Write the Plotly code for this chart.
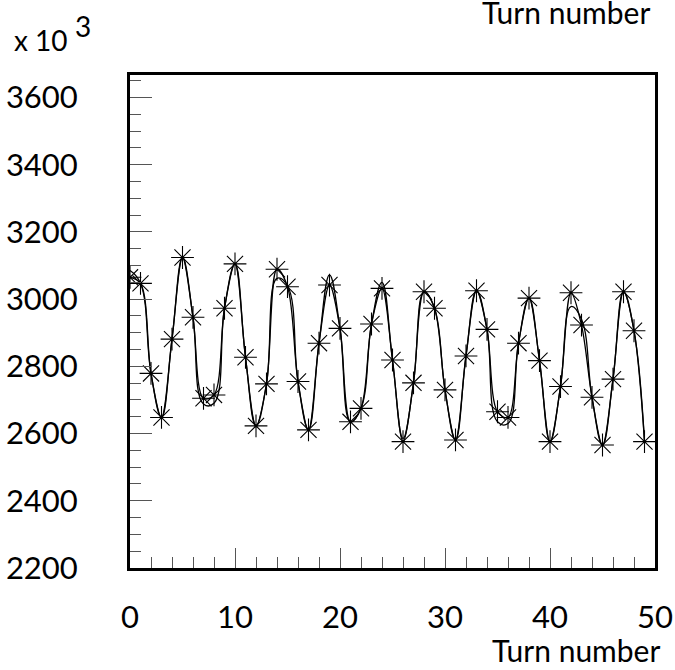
import plotly.graph_objects as go

# Turn number and measured intensity (x 10^3)
turns = list(range(50))
counts = [3065, 3047, 2779, 2648, 2881, 3124, 2946, 2705, 2715, 2973,
          3105, 2827, 2623, 2748, 3089, 3037, 2755, 2611, 2869, 3042,
          2913, 2635, 2675, 2926, 3032, 2819, 2576, 2751, 3022, 2973,
          2730, 2581, 2831, 3025, 2910, 2665, 2648, 2869, 3003, 2817,
          2576, 2740, 3019, 2923, 2708, 2566, 2762, 3022, 2906, 2576]
# second (fitted) curve at each turn
fit_counts = [3085, 3047, 2779, 2648, 2881, 3124, 2946, 2688, 2690, 2973,
              3105, 2827, 2623, 2748, 3062, 3040, 2755, 2611, 2869, 3072,
              2913, 2635, 2675, 2926, 3050, 2819, 2585, 2751, 3022, 2973,
              2730, 2581, 2831, 3025, 2910, 2635, 2630, 2869, 3003, 2817,
              2576, 2740, 2978, 2940, 2708, 2566, 2762, 3022, 2906, 2576]
x_ticks = [0, 10, 20, 30, 40, 50]
y_ticks = [2200, 2400, 2600, 2800, 3000, 3200, 3400, 3600]

FONT = "Lato, 'Open Sans', sans-serif"

fig = go.Figure()
fig.add_trace(go.Scatter(x=turns, y=fit_counts, mode="lines",
                         line=dict(color="black", width=1.3, shape="spline", smoothing=1.2),
                         showlegend=False, hoverinfo="skip"))
fig.add_trace(go.Scatter(x=turns, y=counts, mode="lines",
                         line=dict(color="black", width=1.3, shape="spline", smoothing=1.0),
                         showlegend=False, hoverinfo="skip"))
fig.add_trace(go.Scatter(x=turns, y=counts, mode="markers",
                         marker=dict(symbol="asterisk-open", size=19, color="black",
                                     line=dict(color="black", width=1.1)),
                         showlegend=False))

fig.update_layout(
    width=675, height=670,
    margin=dict(l=130, r=20, t=75, b=102),
    paper_bgcolor="white", plot_bgcolor="white",
    font=dict(family=FONT, size=31, color="black"),
    xaxis=dict(range=[0, 50], tickvals=x_ticks, ticks="inside", ticklen=20,
               tickwidth=1, tickcolor="#555", showline=True, linewidth=3,
               linecolor="black", mirror=True, showgrid=False, zeroline=False,
               ticklabelstandoff=20, automargin=False,
               minor=dict(dtick=2, ticks="inside", ticklen=11, tickwidth=1,
                          tickcolor="#555", showgrid=False)),
    yaxis=dict(range=[2200, 3667], tickvals=y_ticks, ticks="inside", ticklen=22,
               tickwidth=1, tickcolor="#555", showline=True, linewidth=3,
               linecolor="black", mirror=True, showgrid=False, zeroline=False,
               ticklabelstandoff=43, automargin=False,
               minor=dict(dtick=50, ticks="inside", ticklen=11, tickwidth=1,
                          tickcolor="#555", showgrid=False)),
    annotations=[
        dict(text="Turn number", xref="paper", yref="paper", x=1.013, y=-0.166,
             xanchor="right", yanchor="middle", showarrow=False,
             font=dict(size=30)),
        dict(text="Turn number", xref="paper", yref="paper", x=0.994, y=1.128,
             xanchor="right", yanchor="middle", showarrow=False,
             font=dict(size=30)),
        dict(text="x 10", xref="paper", yref="paper", x=-0.225, y=1.07,
             xanchor="left", yanchor="middle", showarrow=False,
             font=dict(size=28)),
        dict(text="3", xref="paper", yref="paper", x=-0.108, y=1.10,
             xanchor="left", yanchor="middle", showarrow=False,
             font=dict(size=28)),
    ],
)

# remove the browser's default 8px body margin so the figure fills the window exactly
fig.write_html("out.html", config={"displayModeBar": False},
               post_script="document.body.style.margin='0';")
